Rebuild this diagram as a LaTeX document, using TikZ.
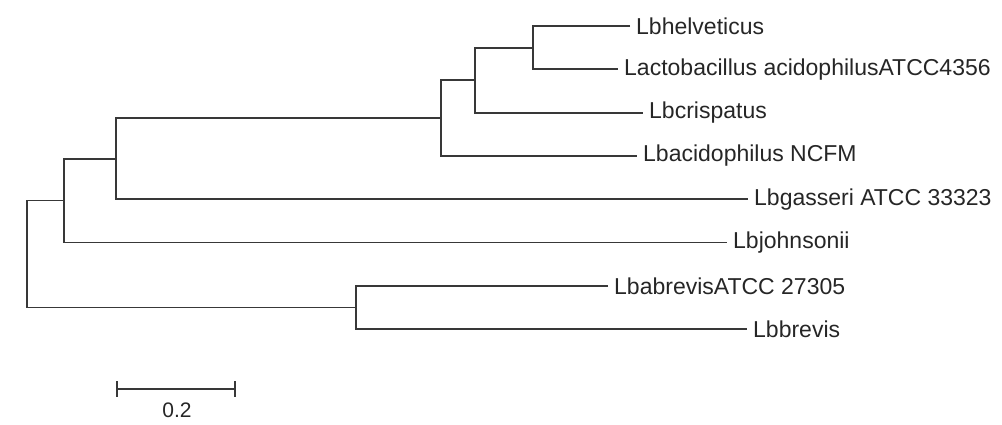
\documentclass[tikz,border=0pt]{standalone}
\usepackage{fontspec}
\setmainfont{Liberation Sans}
\usetikzlibrary{positioning}
\tikzset{
  branch/.style={draw=black!78, line width=1.8pt},
  leaf/.style={anchor=west, inner xsep=6pt, inner ysep=0pt, text=black!85,
    font=\fontsize{23}{27}\selectfont},
  barlabel/.style={inner sep=0pt, text=black!85, font=\fontsize{21}{25}\selectfont}
}
\begin{document}
\begin{tikzpicture}[x=1pt, y=-1pt]
   \useasboundingbox (0,0) rectangle (1002,424);
   % leaves
   \node[leaf] (helv) at (630,26) {Lbhelveticus};
   \node[leaf] (atcc) at (618,69.3) {Lactobacillus acidophilusATCC4356};
   \node[leaf] (crisp) at (643,112.6) {Lbcrispatus};
   \node[leaf] (ncfm) at (637,155.9) {Lbacidophilus NCFM};
   \node[leaf] (gass) at (748,199.2) {Lbgasseri ATCC 33323};
   \node[leaf] (john) at (727,242.5) {Lbjohnsonii};
   \node[leaf] (abrev) at (608,285.8) {LbabrevisATCC 27305};
   \node[leaf] (brev) at (747,329.1) {Lbbrevis};
   % inner nodes
   \coordinate (c) at (533,47.65);
   \coordinate (b) at (475,80.1);
   \coordinate (a) at (441,118);
   \coordinate (n2) at (116,158.6);
   \coordinate (n1) at (64,200.5);
   \coordinate (d) at (356,307.45);
   \coordinate (r) at (27,254);
   % branches
   \draw[branch] (helv.west) -| (c) |- (atcc.west);
   \draw[branch] (c) -| (b) |- (crisp.west);
   \draw[branch] (b) -| (a) |- (ncfm.west);
   \draw[branch] (a) -| (n2) |- (gass.west);
   \draw[branch] (n2) -| (n1) |- (john.west);
   \draw[branch] (abrev.west) -| (d) |- (brev.west);
   \draw[branch] (n1) -| (r) |- (d);
   % scale bar
   \coordinate (sbl) at (117,389);
   \coordinate (sbr) at (235,389);
   \draw[branch] (sbl) -- (sbr);
   \draw[branch] ([yshift=8pt]sbl) -- ([yshift=-8pt]sbl);
   \draw[branch] ([yshift=8pt]sbr) -- ([yshift=-8pt]sbr);
   \node[barlabel] (sblabel) at (177,410) {0.2};
\end{tikzpicture}
\end{document}
